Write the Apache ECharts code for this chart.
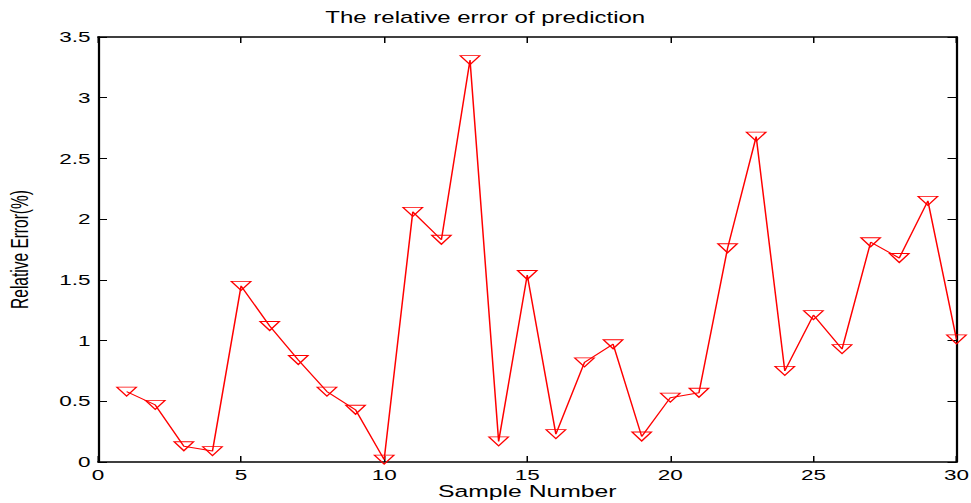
<!DOCTYPE html>
<html>
<head>
<meta charset="utf-8">
<title>The relative error of prediction</title>
<style>
  html, body { margin: 0; padding: 0; background: #fff; overflow: hidden; }
  #wrap { width: 971px; height: 503px; overflow: hidden; }
  /* the original figure is stretched sideways, so draw narrow and widen it */
  #main { height: 503px; transform-origin: 0 0; }
</style>
</head>
<body>
<div id="wrap"><div id="main"></div></div>
<script src="https://cdn.jsdelivr.net/npm/echarts/dist/echarts.min.js"></script>
<script type="text/javascript">

var sampleNumbers = [1, 2, 3, 4, 5, 6, 7, 8, 9, 10,
                     11, 12, 13, 14, 15, 16, 17, 18, 19, 20,
                     21, 22, 23, 24, 25, 26, 27, 28, 29, 30];
var relativeErrors = [0.58, 0.47, 0.13, 0.09, 1.45, 1.12, 0.84, 0.58, 0.43, 0.02,
                      2.06, 1.83, 3.31, 0.17, 1.54, 0.23, 0.82, 0.97, 0.21, 0.53,
                      0.57, 1.76, 2.68, 0.75, 1.21, 0.93, 1.81, 1.68, 2.15, 1.01];
var xTicks = [0, 5, 10, 15, 20, 25, 30];
var yTicks = [0, 0.5, 1, 1.5, 2, 2.5, 3, 3.5];

var stretch = 1.5;
var box = document.getElementById('main');
box.style.width = (971 / stretch) + 'px';
box.style.transform = 'scaleX(' + stretch + ')';

var font = 'Liberation Sans';
var points = [];
for (var i = 0; i < sampleNumbers.length; i++) {
    points.push([sampleNumbers[i], relativeErrors[i]]);
}

function frameAxis(pos, ticks, withLabels) {
    return {
        type: 'value',
        position: pos,
        min: ticks[0],
        max: ticks[ticks.length - 1],
        interval: ticks[1] - ticks[0],
        axisLine: { show: true, onZero: false, lineStyle: { color: '#000', width: 1.5 } },
        axisTick: { show: true, inside: true, length: 6, lineStyle: { color: '#000', width: 1 } },
        splitLine: { show: false },
        axisLabel: { show: withLabels, color: '#000', fontSize: 15, fontFamily: font, margin: 5 }
    };
}

var myChart = echarts.init(box, null, { renderer: 'svg' });

var xBottom = frameAxis('bottom', xTicks, true);
xBottom.name = 'Sample Number';
xBottom.nameLocation = 'middle';
xBottom.nameGap = 20;
xBottom.nameMoveOverlap = false;
xBottom.nameTextStyle = { color: '#000', fontSize: 16.5, fontFamily: font, lineHeight: 18 };

var yLeft = frameAxis('left', yTicks, true);
yLeft.name = 'Relative Error(%)';
yLeft.nameLocation = 'middle';
yLeft.nameGap = 44;
yLeft.nameMoveOverlap = false;
yLeft.nameTextStyle = { color: '#000', fontSize: 15.5, fontFamily: font };

var option = {
    animation: false,
    backgroundColor: '#fff',
    title: {
        text: 'The relative error of prediction',
        left: 'center',
        top: 10,
        padding: [0, 0, 0, 55],
        textStyle: { color: '#000', fontSize: 16, fontWeight: 'normal', fontFamily: font }
    },
    grid: { left: 98 / stretch, right: 14 / stretch, top: 37, bottom: 41, outerBoundsMode: 'none', containLabel: false },
    xAxis: [xBottom, frameAxis('top', xTicks, false)],
    yAxis: [yLeft, frameAxis('right', yTicks, false)],
    series: [{
        type: 'line',
        xAxisIndex: 0,
        yAxisIndex: 0,
        data: points,
        clip: false,
        symbol: 'triangle',
        symbolRotate: 180,
        symbolSize: [13, 9],
        lineStyle: { color: '#ff0000', width: 1 },
        itemStyle: { color: 'rgba(255,255,255,0)', borderColor: '#ff0000', borderWidth: 1 }
    }]
};
myChart.setOption(option);
</script>
</body>
</html>
